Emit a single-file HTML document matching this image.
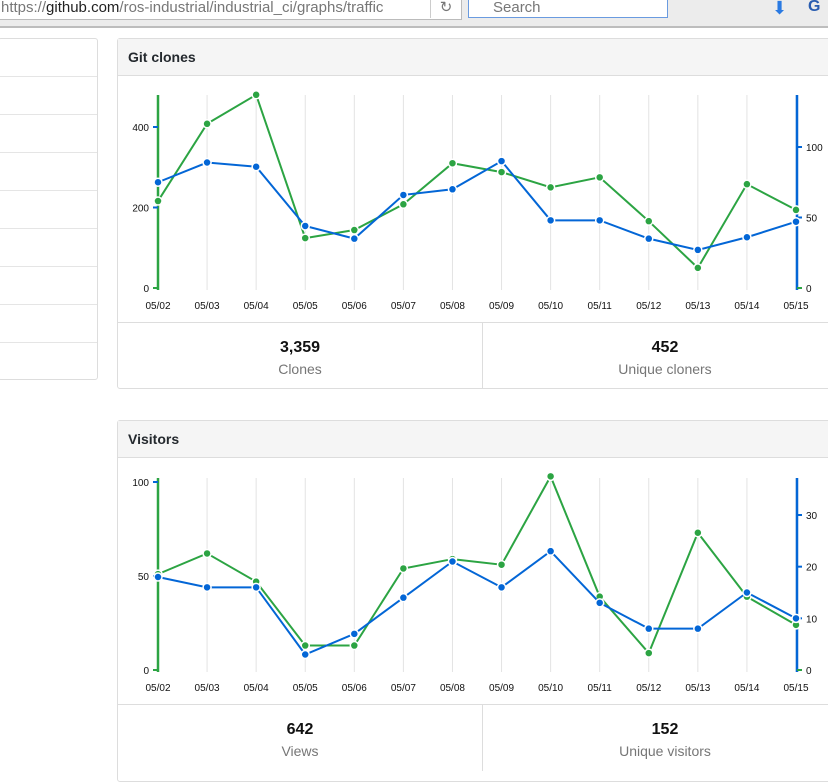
<!DOCTYPE html>
<html><head><meta charset="utf-8"><style>
body{margin:0;width:828px;height:765px;overflow:hidden;background:#fff;font-family:"Liberation Sans",sans-serif;position:relative}
.top{position:absolute;left:0;top:0;width:828px;height:26px;background:#ececec;border-bottom:2px solid #bdbdbd}
.url{position:absolute;left:-2px;top:-2px;width:460px;height:20px;background:#fff;border:1px solid #bbb;font-size:15px;color:#777;padding-left:2px;line-height:18px}
.url b{color:#222;font-weight:normal}
.rel{position:absolute;left:430px;top:-2px;width:30px;height:20px;border-left:1px solid #ccc;color:#777;text-align:center;font-size:15px}
.search{position:absolute;left:468px;top:-2px;height:18px;background:#fff;border:1px solid #6a9be0;font-size:15px;color:#777;line-height:17px;padding-left:24px;box-sizing:content-box;width:174px}
.side{position:absolute;left:-2px;top:38px;width:98px;height:340px;border:1px solid #ddd;border-radius:3px}
.side div{height:37px;border-bottom:1px solid #e5e5e5}
.panel{position:absolute;left:117px;width:720px;border:1px solid #ddd;border-radius:3px}
.hd{height:36px;background:#f5f5f5;border-bottom:1px solid #ddd;font-weight:bold;font-size:14px;line-height:36px;padding-left:10px;color:#24292e}
.stats{position:absolute;left:0;width:720px;height:66px;border-top:1px solid #ddd}
.st{position:absolute;top:0;width:364px;height:66px;text-align:center}
.st b{display:block;font-size:16px;margin-top:16px;color:#111}
.st span{display:block;font-size:14px;color:#767676;margin-top:4px}
svg{position:absolute;left:0;top:0}
</style></head><body>
<div class="top">
<div class="url">https://<b>github.com</b>/ros-industrial/industrial_ci/graphs/traffic</div>
<div class="rel">↻</div>
<div class="search">Search</div>
<div style="position:absolute;left:772px;top:-2px;color:#2a7ae2;font-size:18px">⬇</div>
<div style="position:absolute;left:808px;top:-2px;color:#2a5db0;font-size:16px;font-weight:bold">G</div>
</div>
<div class="side"><div></div><div></div><div></div><div></div><div></div><div></div><div></div><div></div></div>
<div class="panel" style="top:38px;height:349px">
<div class="hd">Git clones</div>
<div class="stats" style="top:283px">
<div class="st" style="left:0;border-right:1px solid #ddd"><b>3,359</b><span>Clones</span></div>
<div class="st" style="left:365px"><b>452</b><span>Unique cloners</span></div>
</div></div>
<div class="panel" style="top:420px;height:360px">
<div class="hd">Visitors</div>
<div class="stats" style="top:283px">
<div class="st" style="left:0;border-right:1px solid #ddd"><b>642</b><span>Views</span></div>
<div class="st" style="left:365px"><b>152</b><span>Unique visitors</span></div>
</div></div>
<svg id="chart" width="828" height="765"></svg>
<script>
const dates=["05/02","05/03","05/04","05/05","05/06","05/07","05/08","05/09","05/10","05/11","05/12","05/13","05/14","05/15"];
const clones=[216,408,480,124,144,208,310,288,250,275,166,50,258,194];
const uniqueCloners=[75,89,86,44,35,66,70,90,48,48,35,27,36,47];
const views=[51,62,47,13,13,54,59,56,103,39,9,73,39,24];
const uniqueVisitors=[18,16,16,3,7,14,21,16,23,13,8,8,15,10];
const clonesTicks=[0,200,400];
const clonerTicks=[0,50,100];
const viewTicks=[0,50,100];
const visitorTicks=[0,10,20,30];
const NS="http://www.w3.org/2000/svg";
const svg=document.getElementById('chart');
function el(t,a,p){const e=document.createElementNS(NS,t);for(const k in a)e.setAttribute(k,a[k]);(p||svg).appendChild(e);return e;}
const x=i=>158+i*(796-158)/(dates.length-1);
function chart(name,base,top,lScale,rScale,lTicks,rTicks,lData,rData){
  const g=el('g',{});
  
  
  const ly=v=>base-v*lScale, ry=v=>base-v*rScale;
  dates.forEach((d,i)=>{
    const gl=el('line',{x1:x(i),x2:x(i),y1:top,y2:base+2,stroke:'#e3e3e3','stroke-width':1},g);
    
    
    const t=el('text',{x:x(i),y:base+21,'text-anchor':'middle','font-size':10,fill:'#111','font-family':'Liberation Sans, sans-serif'},g);
    t.textContent=d;
    
    
  });
  const la=el('line',{x1:158,x2:158,y1:top,y2:base+2,stroke:'#2ca443','stroke-width':2.5},g);
  
  
  const ra=el('line',{x1:797,x2:797,y1:top,y2:base+2,stroke:'#0366d6','stroke-width':2.5},g);
  
  
  lTicks.forEach(v=>{
    el('line',{x1:153,x2:158,y1:ly(v),y2:ly(v),stroke:v?'#0366d6':'#2ca443','stroke-width':2},g);
    const t=el('text',{x:149,y:ly(v)+4,'text-anchor':'end','font-size':10,fill:'#111'},g);
    t.textContent=v;
    
    
  });
  rTicks.forEach(v=>{
    el('line',{x1:797,x2:802,y1:ry(v),y2:ry(v),stroke:v?'#0366d6':'#2ca443','stroke-width':2},g);
    const t=el('text',{x:806,y:ry(v)+4,'font-size':10,fill:'#111'},g);
    t.textContent=v;
    
    
  });
  [[lData,ly,'#2ca443','total-series'],[rData,ry,'#0366d6','unique-series']].forEach(([d,f,c,n])=>{
    const p=el('polyline',{points:d.map((v,i)=>x(i)+','+f(v)).join(' '),fill:'none',stroke:c,'stroke-width':2},g);
    
    
    d.forEach((v,i)=>{
      const cc=el('circle',{cx:x(i),cy:f(v),r:4,fill:c,stroke:'#fff','stroke-width':1.5},g);
      
      
    });
  });
}
chart('git-clones-chart',288,95,(288-127)/400,(288-147)/100,clonesTicks,clonerTicks,clones,uniqueCloners);
chart('visitors-chart',670,478,(670-482)/100,(670-515)/30,viewTicks,visitorTicks,views,uniqueVisitors);
</script>
</body></html>
